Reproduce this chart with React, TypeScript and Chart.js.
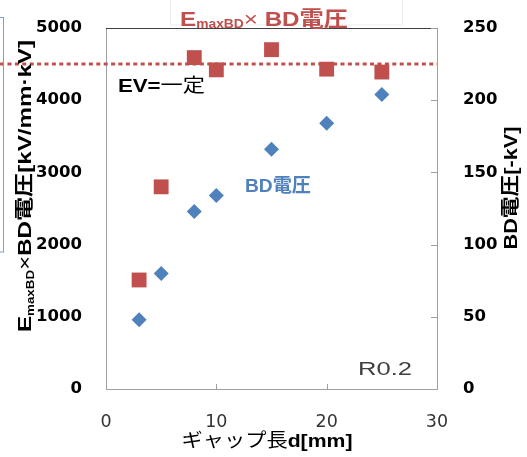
import React, { useEffect, useRef } from "react";
import { Chart, registerables } from "chart.js";

Chart.register(...registerables);

// ---- data ----
const GAP_MM = [3, 5, 8, 10, 15, 20, 25];
const EMAX_X_BD = [1510, 2800, 4590, 4420, 4700, 4430, 4390];
const BD_VOLTAGE = [48, 80, 123, 134, 166, 184, 204];
const EV_CONST = 4500;
const EV_LINE_X = [-9.6, 30];
const X_RANGE = [0, 30, 10];
const Y_LEFT_RANGE = [0, 5000, 1000];
const Y_RIGHT_RANGE = [0, 250, 50];

const RED = "#c0504d";
const BLUE = "#4f81bd";
const SANS = '"Liberation Sans", "Noto Sans CJK JP", sans-serif';
const TICK_FONT = '"DejaVu Sans", "Noto Sans CJK JP", sans-serif';

type Seg = { t: string; font: string; dy?: number; color?: string };

function drawRich(
  ctx: CanvasRenderingContext2D,
  segs: Seg[],
  x: number,
  y: number,
  width: number,
  align: "left" | "center",
  color: string,
  rot = 0
) {
  ctx.save();
  ctx.textBaseline = "middle";
  ctx.textAlign = "left";
  let nat = 0;
  const ws = segs.map((s) => {
    ctx.font = s.font;
    const w = ctx.measureText(s.t).width;
    nat += w;
    return w;
  });
  const sx = width / nat;
  ctx.translate(x, y);
  if (rot) ctx.rotate(rot);
  ctx.scale(sx, 1);
  let cx = align === "center" ? -nat / 2 : 0;
  segs.forEach((s, i) => {
    ctx.font = s.font;
    ctx.fillStyle = s.color || color;
    ctx.fillText(s.t, cx, s.dy || 0);
    cx += ws[i];
  });
  ctx.restore();
}

const plain = (v: any) => String(v);

const decor = {
  id: "decor",
  beforeDatasetsDraw(chart: any) {
    const { ctx, chartArea } = chart;
    ctx.save();
    // top frame line
    ctx.strokeStyle = "#404040";
    ctx.lineWidth = 1;
    ctx.beginPath();
    ctx.moveTo(chartArea.left, chartArea.top + 0.5);
    ctx.lineTo(chartArea.right, chartArea.top + 0.5);
    ctx.stroke();
    // inward tick marks
    ctx.strokeStyle = "#a0a0a0";
    const y2 = chart.scales.y2;
    y2.ticks.forEach((t: any) => {
      const py = Math.round(y2.getPixelForValue(t.value)) + 0.5;
      ctx.beginPath();
      ctx.moveTo(chartArea.right, py);
      ctx.lineTo(chartArea.right - 6, py);
      ctx.stroke();
    });
    const xs = chart.scales.x;
    xs.ticks.forEach((t: any) => {
      const px = Math.round(xs.getPixelForValue(t.value)) + 0.5;
      ctx.beginPath();
      ctx.moveTo(px, chartArea.bottom);
      ctx.lineTo(px, chartArea.bottom - 5);
      ctx.stroke();
    });
    ctx.restore();
  },
  afterDraw(chart: any) {
    const { ctx } = chart;
    ctx.save();
    // cropped blue frame at left edge
    ctx.strokeStyle = "#7f9fcf";
    ctx.lineWidth = 1;
    ctx.strokeRect(-10, 17.5, 13.5, 234.5);
    // title box
    ctx.fillStyle = "#ffffff";
    ctx.fillRect(170, -1, 232, 27);
    ctx.strokeStyle = "#ececec";
    ctx.strokeRect(170.5, -1, 232, 26);
    ctx.restore();

    const B = (s: number) => `bold ${s}px ${SANS}`;
    const N = (s: number) => `${s}px ${SANS}`;

    // chart title
    drawRich(
      ctx,
      [
        { t: "E", font: B(21) },
        { t: "maxBD", font: B(12), dy: 5 },
        { t: "×", font: N(21) },
        { t: " BD電圧", font: B(21) },
      ],
      264,
      20,
      168,
      "center",
      RED
    );
    // left axis title
    drawRich(
      ctx,
      [
        { t: "E", font: B(19) },
        { t: "maxBD", font: B(10.5), dy: 5 },
        { t: "×", font: N(19) },
        { t: "BD電圧[kV/mm·kV]", font: B(19) },
      ],
      26,
      186,
      292,
      "center",
      "#000000",
      -Math.PI / 2
    );
    // right axis title
    drawRich(ctx, [{ t: "BD電圧[-kV]", font: B(19) }], 512, 188, 123, "center", "#000000", -Math.PI / 2);
    // x axis title
    drawRich(
      ctx,
      [
        { t: "ギャップ長", font: N(19) },
        { t: "d[mm]", font: B(19) },
      ],
      267,
      442,
      171,
      "center",
      "#000000"
    );
    // annotations
    drawRich(
      ctx,
      [
        { t: "EV=", font: B(19) },
        { t: "一定", font: N(19) },
      ],
      118,
      87,
      87,
      "left",
      "#000000"
    );
    drawRich(ctx, [{ t: "BD電圧", font: B(19) }], 245, 187, 66, "left", BLUE);
    drawRich(ctx, [{ t: "R0.2", font: N(18) }], 358, 370, 54, "left", "#404040");
  },
};

export default function App() {
  const ref = useRef<HTMLCanvasElement | null>(null);
  useEffect(() => {
    if (!ref.current) return;
    const chart = new Chart(ref.current, {
      type: "scatter",
      data: {
        datasets: [
          {
            label: "EmaxBD×BD電圧",
            data: GAP_MM.map((x, i) => ({ x, y: EMAX_X_BD[i] })),
            yAxisID: "y",
            pointStyle: "rect",
            pointRadius: 10.5,
            pointHoverRadius: 10.5,
            backgroundColor: RED,
            borderColor: RED,
            borderWidth: 0,
            order: 1,
          },
          {
            label: "BD電圧",
            data: GAP_MM.map((x, i) => ({ x, y: BD_VOLTAGE[i] })),
            yAxisID: "y2",
            pointStyle: "rectRot",
            pointRadius: 7.5,
            pointHoverRadius: 7.5,
            backgroundColor: BLUE,
            borderColor: BLUE,
            borderWidth: 0,
            order: 2,
          },
          {
            label: "EV=一定",
            type: "line",
            data: EV_LINE_X.map((x) => ({ x, y: EV_CONST })),
            yAxisID: "y",
            borderColor: RED,
            borderWidth: 3,
            borderDash: [4, 3.4],
            pointRadius: 0,
            fill: false,
            clip: false as any,
            order: 3,
          } as any,
        ],
      },
      options: {
        animation: false,
        responsive: false,
        maintainAspectRatio: false,
        layout: { padding: { top: 28, left: 0, right: 0, bottom: 0 } },
        plugins: {
          legend: { display: false },
          tooltip: { enabled: false },
          title: { display: false },
        },
        scales: {
          x: {
            type: "linear",
            min: X_RANGE[0],
            max: X_RANGE[1],
            grid: { display: false },
            border: { display: true, color: "#a0a0a0" },
            ticks: {
              stepSize: X_RANGE[2],
              padding: 15,
              color: "#333333",
              callback: plain,
              font: { family: TICK_FONT, size: 17.5 },
            },
            afterFit: (s: any) => {
              s.height = 68;
            },
          },
          y: {
            type: "linear",
            position: "left",
            min: Y_LEFT_RANGE[0],
            max: Y_LEFT_RANGE[1],
            grid: { display: false },
            border: { display: true, color: "#a0a0a0" },
            ticks: {
              stepSize: Y_LEFT_RANGE[2],
              padding: 16,
              color: "#000000",
              callback: plain,
              font: { family: TICK_FONT, size: 16.5, weight: "bold" },
            },
            afterFit: (s: any) => {
              s.width = 106;
            },
          },
          y2: {
            type: "linear",
            position: "right",
            min: Y_RIGHT_RANGE[0],
            max: Y_RIGHT_RANGE[1],
            grid: { display: false },
            border: { display: true, color: "#a0a0a0" },
            ticks: {
              stepSize: Y_RIGHT_RANGE[2],
              padding: 18,
              color: "#000000",
              callback: plain,
              font: { family: TICK_FONT, size: 16.5, weight: "bold" },
            },
            afterFit: (s: any) => {
              s.width = 90;
            },
          },
        },
      } as any,
      plugins: [decor],
    });
    return () => chart.destroy();
  }, []);

  return (
    <div style={{ position: "absolute", left: 0, top: 0, width: 527, height: 457, background: "#fff" }}>
      <canvas ref={ref} width={527} height={457} style={{ width: 527, height: 457 }} />
    </div>
  );
}
